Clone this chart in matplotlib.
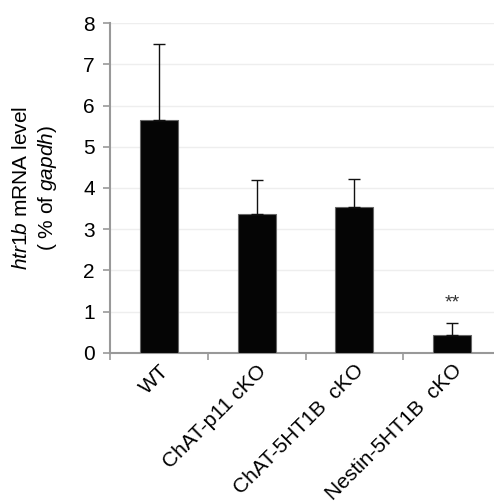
import matplotlib
matplotlib.use("Agg")
import matplotlib.pyplot as plt
import matplotlib.transforms as mtransforms
import numpy as np

plt.rcParams["font.family"] = ["Liberation Sans", "DejaVu Sans"]
plt.rcParams["mathtext.fontset"] = "custom"
plt.rcParams["mathtext.rm"] = "Liberation Sans"
plt.rcParams["mathtext.it"] = "Liberation Sans:italic"

# data
groups = ["WT", "ChAT-p11 cKO", "ChAT-5HT1B  cKO", "Nestin-5HT1B  cKO"]
means = [5.66, 3.38, 3.55, 0.42]
errors = [1.84, 0.82, 0.67, 0.29]
stars = ["", "", "", "**"]
star_y = [0, 0, 0, 1.2]

x = np.arange(len(groups))

fig = plt.figure(figsize=(4.94, 5.04), dpi=100)
ax = fig.add_axes([0.2227, 0.3002, 0.7915, 0.6536])

ax.bar(x, means, 0.39, color="#050505", edgecolor="#666666", linewidth=0.8, zorder=3)
ax.errorbar(x, means, yerr=[np.zeros(len(errors)), errors], fmt="none",
            ecolor="#111111", elinewidth=1.0, capsize=4, capthick=1.0, zorder=4)

for xi, s, sy in zip(x, stars, star_y):
    if s:
        ax.text(xi, sy, s, ha="center", va="center", fontsize=14, color="#333333")

ax.set_xlim(-0.5, 3.5)
ax.set_ylim(0, 8)
ax.set_yticks(range(0, 9))
ax.yaxis.grid(True, color="#eeeeee", linewidth=1, zorder=0)

ax.set_xticks(x)
ax.set_xticklabels(groups, rotation=45, ha="right", rotation_mode="anchor", fontsize=15)
offset = mtransforms.ScaledTranslation(16 / 72, 0, fig.dpi_scale_trans)
for lab in ax.get_xticklabels():
    lab.set_transform(lab.get_transform() + offset)
ax.set_xticks(np.arange(-0.5, 4.0, 1.0), minor=True)
ax.tick_params(axis="x", which="major", length=0, pad=6)
ax.tick_params(axis="x", which="minor", length=5, color="#999999", width=1.2)
ax.tick_params(axis="y", length=5, color="#999999", width=1.2, labelsize=15, pad=6)

for side in ["top", "right"]:
    ax.spines[side].set_visible(False)
for side in ["left", "bottom"]:
    ax.spines[side].set_color("#999999")
    ax.spines[side].set_linewidth(1.5)

ax.set_ylabel("$\\mathit{htr1b}$ mRNA level\n( % of $\\mathit{gapdh}$)", fontsize=15,
              labelpad=17, linespacing=1.3)

fig.savefig("out.png", dpi=100)
